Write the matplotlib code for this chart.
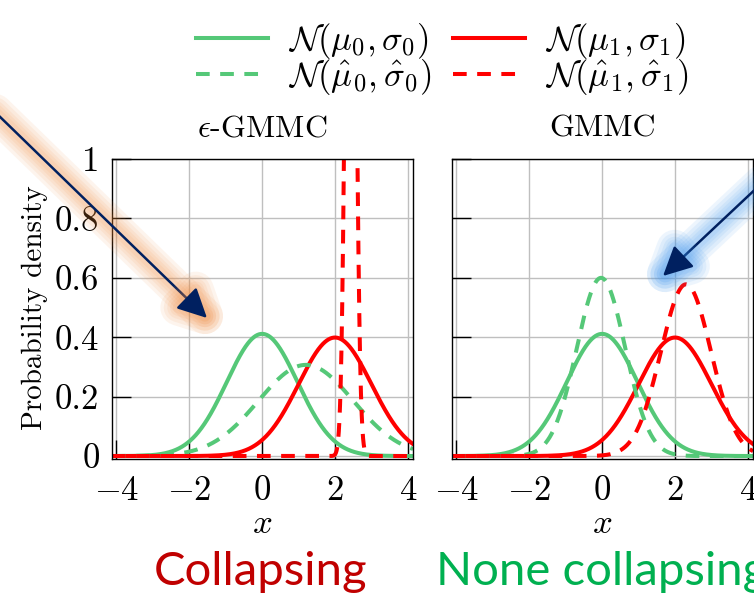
import numpy as np
import matplotlib
matplotlib.use('Agg')
import matplotlib.pyplot as plt
import matplotlib.patheffects as pe
from matplotlib.patches import FancyArrowPatch

plt.rcParams['font.family'] = 'serif'
plt.rcParams['font.serif'] = ['cmr10']
plt.rcParams['mathtext.fontset'] = 'cm'
plt.rcParams['axes.formatter.use_mathtext'] = True

# panel titles and captions
panels = [r'$\epsilon$-GMMC', 'GMMC']
captions = ['Collapsing', 'None collapsing']
caption_colors = ['#c00000', '#00b050']

# Gaussian parameters, one entry per panel
mu0 = [0.0, 0.0]
sigma0 = [0.97, 0.97]
mu1 = [2.0, 2.0]
sigma1 = [1.0, 1.0]
mu0_hat = [1.2, -0.03]
sigma0_hat = [1.3, 0.665]
mu1_hat = [2.43, 2.3]
sigma1_hat = [0.12, 0.69]

xticks = [-4, -2, 0, 2, 4]
yticks = [0, 0.2, 0.4, 0.6, 0.8, 1]
ytick_labels = ['0', '0.2', '0.4', '0.6', '0.8', '1']

legend_labels = [r'$\mathcal{N}(\mu_0,\sigma_0)$', r'$\mathcal{N}(\hat{\mu}_0,\hat{\sigma}_0)$',
                 r'$\mathcal{N}(\mu_1,\sigma_1)$', r'$\mathcal{N}(\hat{\mu}_1,\hat{\sigma}_1)$']

GREEN = '#55c878'
RED = '#ff0000'
W, H = 754, 595


def pdf(x, m, s):
    return np.exp(-0.5 * ((x - m) / s) ** 2) / (s * np.sqrt(2 * np.pi))


def px(x, y):
    return (x / W, 1 - y / H)


fig = plt.figure(figsize=(W / 100, H / 100), dpi=100)
ax_l = fig.add_axes([112 / W, 1 - 459 / H, 301 / W, 300 / H])
ax_r = fig.add_axes([452 / W, 1 - 459 / H, 301 / W, 300 / H])

x = np.linspace(-4.3, 4.3, 6000)
lw = 2.9
dash = (3.4, 2.6)
for i, ax in enumerate([ax_l, ax_r]):
    l1, = ax.plot(x, pdf(x, mu0[i], sigma0[i]), color=GREEN, lw=lw)
    l2, = ax.plot(x, pdf(x, mu1[i], sigma1[i]), color=RED, lw=lw)
    l3, = ax.plot(x, pdf(x, mu0_hat[i], sigma0_hat[i]), color=GREEN, lw=lw, dashes=dash)
    l4, = ax.plot(x, pdf(x, mu1_hat[i], sigma1_hat[i]), color=RED, lw=lw, dashes=dash)
    ax.set_xlim(-4.12, 4.14)
    ax.set_ylim(-0.01, 1)
    ax.set_xticks(xticks)
    ax.set_xticklabels(['$%d$' % t for t in xticks])
    ax.set_yticks(yticks)
    ax.set_yticklabels(ytick_labels)
    ax.grid(color='#bfbfbf', lw=1.0)
    ax.set_axisbelow(True)
    ax.tick_params(direction='in', length=14, width=1, top=False, right=False,
                   labelsize=25)
    ax.tick_params(axis='x', pad=12)
    ax.tick_params(axis='y', pad=9)
    for sp in ax.spines.values():
        sp.set_linewidth(1.0)
    ax.set_title(panels[i], fontsize=23, pad=16)
    ax.set_xlabel('$x$', fontsize=25, labelpad=1)
    if i == 1:
        ax.tick_params(labelleft=False)
    if i == 0:
        handles = [l1, l3, l2, l4]

fig.text(35 / W, 1 - 308 / H, 'Probability density', rotation=90, ha='center', va='center',
         fontsize=21)

fig.legend(handles, legend_labels, ncol=2, loc='center', bbox_to_anchor=px(442, 59),
           frameon=False, fontsize=25, handlelength=2.07, handletextpad=0.58,
           columnspacing=0.63, labelspacing=-0.1, borderpad=0)

for cx, txt, col in zip([261, 602], captions, caption_colors):
    fig.text(cx / W, 1 - 585 / H, txt, ha='center', va='baseline', fontsize=34,
             family='Lato', color=col)


def glow_arrow(start, end, glow):
    effects = [pe.Stroke(linewidth=w, foreground=glow, alpha=0.09) for w in (26, 21, 16, 12, 8)]
    effects.append(pe.Normal())
    arr = FancyArrowPatch(px(*start), px(*end), transform=fig.transFigure,
                          arrowstyle='-|>,head_length=0.9,head_width=0.45', mutation_scale=20,
                          color='#002060', lw=1.8, clip_on=False, shrinkA=0, shrinkB=0)
    arr.set_path_effects(effects)
    fig.add_artist(arr)


glow_arrow((-5, 112), (207, 318), '#f08a3c')
glow_arrow((762, 183), (663, 276), '#3d95ee')

fig.savefig('out.png', dpi=100)
